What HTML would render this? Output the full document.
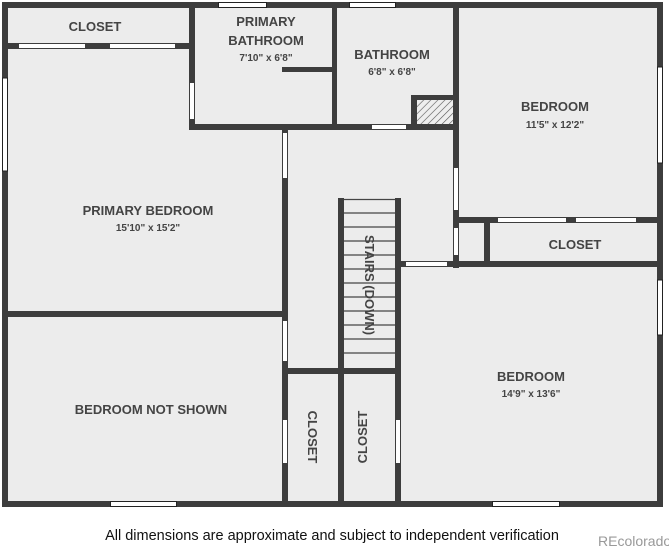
<!DOCTYPE html>
<html><head><style>
html,body{margin:0;padding:0;background:#fff;}
svg{display:block;}
text{font-family:"Liberation Sans",sans-serif;fill:#444;font-weight:bold;}
</style></head><body>
<svg width="669" height="546" viewBox="0 0 669 546">
<defs>
<pattern id="h" width="5" height="5" patternUnits="userSpaceOnUse" patternTransform="rotate(45)">
<rect width="5" height="5" fill="#eee"/><line x1="0" y1="0" x2="0" y2="5" stroke="#555" stroke-width="1.2"/>
</pattern>
</defs>
<rect x="2" y="2" width="661" height="505" fill="#ececec"/>
<g fill="#3d3d3d">
<rect x="2" y="2" width="661" height="6"/>
<rect x="2" y="2" width="6" height="505"/>
<rect x="657" y="2" width="6" height="505"/>
<rect x="2" y="501" width="661" height="6"/>
<rect x="8" y="43" width="183" height="6"/>
<rect x="189" y="8" width="6" height="122"/>
<rect x="189" y="124" width="270" height="6"/>
<rect x="282" y="67" width="52" height="5"/>
<rect x="332" y="8" width="5" height="122"/>
<rect x="453" y="8" width="6" height="260"/>
<rect x="411" y="95" width="48" height="35"/>
<rect x="453" y="217" width="210" height="6"/>
<rect x="484" y="217" width="6" height="50"/>
<rect x="400" y="261" width="263" height="6"/>
<rect x="282" y="128" width="6" height="379"/>
<rect x="8" y="311" width="280" height="6"/>
<rect x="338" y="198" width="6" height="309"/>
<rect x="395" y="198" width="6" height="309"/>
<rect x="282" y="368" width="119" height="6"/>
</g>
<rect x="417" y="100" width="36" height="24" fill="url(#h)"/>
<g stroke="#444" stroke-width="1.2">
<line x1="344" y1="199.5" x2="395" y2="199.5"/>
<line x1="344" y1="213" x2="395" y2="213"/>
<line x1="344" y1="227" x2="395" y2="227"/>
<line x1="344" y1="241" x2="395" y2="241"/>
<line x1="344" y1="255" x2="395" y2="255"/>
<line x1="344" y1="269" x2="395" y2="269"/>
<line x1="344" y1="283" x2="395" y2="283"/>
<line x1="344" y1="297" x2="395" y2="297"/>
<line x1="344" y1="311" x2="395" y2="311"/>
<line x1="344" y1="325" x2="395" y2="325"/>
<line x1="344" y1="339" x2="395" y2="339"/>
<line x1="344" y1="353" x2="395" y2="353"/>
</g>
<g fill="#fff">
<rect x="19" y="44" width="66" height="4"/>
<rect x="110" y="44" width="65" height="4"/>
<rect x="190" y="83" width="4" height="36"/>
<rect x="372" y="125" width="34" height="4"/>
<rect x="283" y="133" width="4" height="45"/>
<rect x="454" y="168" width="4" height="42"/>
<rect x="454" y="228" width="4" height="27"/>
<rect x="498" y="218" width="68" height="4"/>
<rect x="576" y="218" width="60" height="4"/>
<rect x="406" y="262" width="41" height="4"/>
<rect x="283" y="321" width="4" height="40"/>
<rect x="283" y="420" width="4" height="43"/>
<rect x="396" y="420" width="4" height="43"/>
</g>
<g fill="#fff" stroke="#222" stroke-width="1">
<rect x="218.5" y="2.5" width="48" height="5"/>
<rect x="349.5" y="2.5" width="46" height="5"/>
<rect x="2.5" y="78" width="5" height="93"/>
<rect x="657.5" y="67" width="5" height="96"/>
<rect x="657.5" y="280" width="5" height="55"/>
<rect x="110.5" y="501.5" width="66" height="5"/>
<rect x="492.5" y="501.5" width="67" height="5"/>
</g>
<g text-anchor="middle" font-size="13">
<text x="95" y="31">CLOSET</text>
<text x="266" y="26">PRIMARY</text>
<text x="266" y="45">BATHROOM</text>
<text x="266" y="61" font-size="10">7'10" x 6'8"</text>
<text x="392" y="59">BATHROOM</text>
<text x="392" y="75" font-size="10">6'8" x 6'8"</text>
<text x="555" y="111">BEDROOM</text>
<text x="555" y="128" font-size="10">11'5" x 12'2"</text>
<text x="575" y="249">CLOSET</text>
<text x="148" y="215">PRIMARY BEDROOM</text>
<text x="148" y="231" font-size="10">15'10" x 15'2"</text>
<text x="151" y="414">BEDROOM NOT SHOWN</text>
<text x="531" y="381">BEDROOM</text>
<text x="531" y="397" font-size="10">14'9" x 13'6"</text>
<text transform="translate(365,285) rotate(90)">STAIRS (DOWN)</text>
<text transform="translate(308,437) rotate(90)">CLOSET</text>
<text transform="translate(367,437) rotate(-90)">CLOSET</text>
</g>
<text x="332" y="540" text-anchor="middle" font-size="14.5" style="font-weight:normal;fill:#111">All dimensions are approximate and subject to independent verification</text>
<text x="598" y="546" font-size="14" style="font-weight:normal;fill:#999">REcolorado</text>
</svg>
</body></html>
